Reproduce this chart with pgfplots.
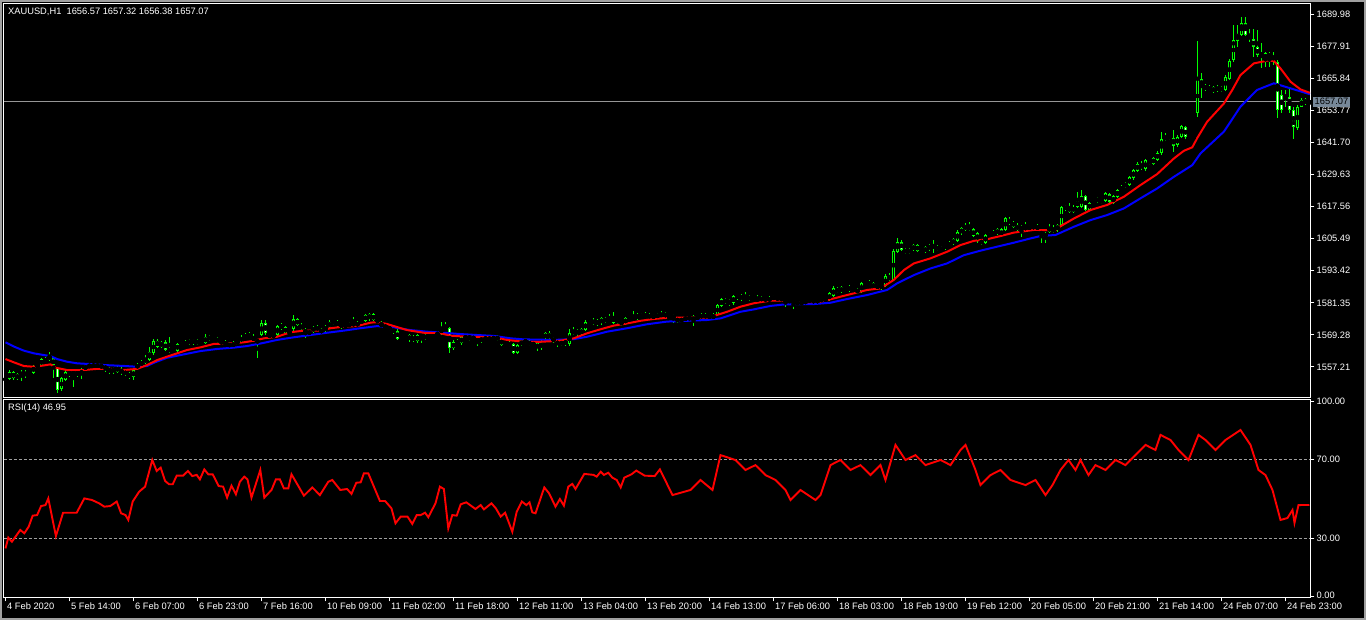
\documentclass[border=0pt]{standalone}
\usepackage{pgfplots}
\usepackage{pgfplotstable}
\pgfplotsset{compat=1.18}
\usepackage{fontspec}
\setmainfont{Liberation Sans}
\definecolor{cgreen}{RGB}{0,255,0}
\definecolor{cred}{RGB}{255,0,0}
\definecolor{cblue}{RGB}{0,0,255}
\definecolor{pricebox}{RGB}{119,136,153}
\definecolor{frame}{RGB}{160,160,160}
\newcommand\mtfont{\fontsize{9.3pt}{11pt}\selectfont}

\pgfplotstableread{
i o h l c
0 1552.3 1553.3 1551.8 1552.9
1 1552.6 1555.9 1552.2 1555.4
2 1555.4 1555.8 1552.4 1552.9
3 1552.6 1555.0 1552.2 1554.6
4 1553.8 1556.0 1552.0 1555.4
5 1555.4 1555.9 1553.2 1553.8
6 1554.2 1555.8 1553.8 1555.4
7 1555.1 1558.0 1554.6 1557.6
8 1557.3 1558.4 1556.9 1557.9
9 1557.9 1560.6 1557.5 1560.1
10 1559.2 1560.8 1558.8 1560.1
11 1559.8 1563.0 1559.3 1561.7
12 1560.5 1561.0 1552.9 1557.9
13 1556.7 1557.2 1547.5 1548.6
14 1548.8 1553.5 1548.2 1552.9
15 1552.3 1556.0 1551.9 1555.4
16 1555.4 1556.0 1553.6 1554.2
17 1554.2 1556.4 1549.8 1555.4
18 1555.4 1556.1 1553.5 1554.2
19 1556.1 1556.8 1552.8 1554.2
20 1556.1 1558.6 1555.6 1557.9
21 1557.3 1558.5 1556.9 1557.9
22 1557.6 1558.3 1557.0 1557.9
23 1558.3 1558.8 1556.6 1557.1
24 1557.6 1558.1 1556.8 1557.3
25 1557.6 1558.0 1555.2 1556.3
26 1556.7 1557.3 1554.4 1555.5
27 1555.6 1557.2 1554.6 1556.7
28 1557.3 1557.8 1554.9 1555.4
29 1556.3 1557.2 1554.3 1555.0
30 1555.4 1555.9 1554.0 1554.6
31 1554.8 1555.3 1552.8 1553.3
32 1553.3 1556.6 1552.4 1556.1
33 1556.7 1558.8 1556.2 1558.3
34 1557.9 1559.7 1557.4 1559.2
35 1558.8 1561.6 1558.4 1560.5
36 1559.8 1564.6 1559.3 1563.0
37 1562.4 1567.6 1561.9 1567.1
38 1567.1 1567.6 1564.4 1564.9
39 1564.9 1567.0 1564.4 1566.5
40 1566.7 1567.2 1563.1 1563.6
41 1563.0 1568.4 1562.6 1564.2
42 1564.0 1564.5 1562.7 1563.2
43 1563.4 1566.4 1563.0 1565.9
44 1565.1 1566.6 1564.6 1566.1
45 1565.5 1567.3 1565.0 1566.7
46 1565.9 1567.9 1565.4 1567.4
47 1567.4 1567.8 1565.6 1566.1
48 1566.1 1567.6 1565.6 1567.1
49 1566.7 1567.2 1565.7 1566.2
50 1566.1 1569.5 1565.7 1568.6
51 1568.6 1569.3 1567.1 1567.6
52 1567.5 1569.0 1567.0 1568.4
53 1568.0 1568.5 1566.2 1566.7
54 1566.9 1567.3 1565.7 1566.2
55 1566.7 1567.2 1565.0 1565.5
56 1566.1 1566.6 1564.3 1564.9
57 1564.9 1567.0 1564.4 1566.4
58 1566.4 1567.3 1565.8 1566.7
59 1566.7 1569.2 1566.2 1568.6
60 1568.0 1570.0 1567.6 1569.2
61 1569.2 1570.3 1568.1 1568.6
62 1568.6 1569.6 1566.6 1567.1
63 1567.2 1567.7 1560.5 1566.5
64 1569.2 1574.8 1568.7 1573.6
65 1573.6 1575.0 1569.4 1569.9
66 1569.0 1569.8 1567.9 1569.3
67 1569.3 1569.9 1568.4 1568.6
68 1569.3 1573.2 1568.8 1572.6
69 1572.6 1573.6 1571.1 1572.3
70 1572.1 1572.6 1569.6 1570.1
71 1570.1 1570.9 1569.4 1570.5
72 1571.4 1576.8 1570.9 1575.2
73 1575.2 1575.7 1572.5 1573.0
74 1573.2 1573.7 1570.9 1571.4
75 1571.4 1571.9 1568.0 1569.9
76 1569.9 1570.9 1569.4 1570.5
77 1570.5 1572.6 1570.0 1572.4
78 1571.1 1572.9 1570.6 1572.4
79 1571.4 1571.9 1569.6 1570.1
80 1570.9 1572.9 1570.4 1572.4
81 1572.1 1574.8 1571.6 1574.3
82 1573.6 1575.0 1573.1 1574.6
83 1574.3 1574.8 1572.4 1572.9
84 1573.2 1573.8 1571.7 1572.4
85 1572.4 1573.4 1572.1 1573.0
86 1572.6 1574.0 1572.1 1573.6
87 1573.0 1576.2 1572.6 1573.6
88 1572.6 1574.6 1572.1 1574.0
89 1574.0 1575.4 1573.1 1575.0
90 1574.6 1577.2 1574.1 1576.8
91 1575.2 1577.5 1574.6 1577.2
92 1577.0 1577.4 1574.4 1574.9
93 1574.9 1575.3 1573.9 1574.3
94 1573.6 1574.5 1572.2 1572.6
95 1572.6 1573.4 1571.5 1572.1
96 1572.1 1572.6 1570.9 1571.4
97 1571.4 1571.9 1569.8 1570.3
98 1570.8 1571.4 1567.2 1567.9
99 1567.9 1568.9 1567.2 1568.7
100 1568.7 1569.5 1568.1 1569.1
101 1569.1 1569.6 1566.8 1567.4
102 1568.6 1569.1 1566.5 1567.1
103 1566.9 1569.7 1566.3 1569.3
104 1569.3 1569.8 1566.1 1568.0
105 1568.0 1569.5 1567.5 1569.0
106 1569.0 1569.8 1567.7 1568.2
107 1568.2 1569.7 1567.7 1569.25
108 1569.3 1570.3 1569.0 1569.9
109 1569.9 1574.0 1569.4 1571.8
110 1571.8 1574.0 1571.0 1572.4
111 1571.8 1572.3 1562.4 1564.2
112 1564.2 1567.2 1563.5 1566.7
113 1566.7 1567.6 1565.6 1566.1
114 1566.1 1568.8 1565.6 1568.6
115 1568.6 1569.1 1567.6 1568.0
116 1568.0 1568.9 1567.0 1568.6
117 1568.6 1569.1 1567.2 1567.6
118 1567.6 1568.1 1565.1 1566.7
119 1566.9 1568.4 1566.4 1568.2
120 1568.2 1569.0 1567.1 1567.4
121 1567.4 1568.7 1566.9 1568.4
122 1568.4 1569.0 1567.3 1567.6
123 1567.6 1569.1 1566.9 1568.6
124 1567.6 1568.1 1565.2 1565.5
125 1565.5 1566.9 1565.0 1566.7
126 1566.4 1566.9 1564.6 1565.1
127 1565.7 1566.2 1562.2 1562.6
128 1562.6 1565.9 1562.1 1565.5
129 1565.8 1567.3 1565.3 1566.7
130 1566.4 1567.8 1566.0 1567.3
131 1566.7 1567.2 1565.0 1565.6
132 1565.6 1566.5 1565.2 1566.0
133 1566.1 1566.8 1563.2 1564.2
134 1564.2 1567.5 1563.5 1566.3
135 1568.0 1570.4 1567.5 1569.9
136 1570.1 1570.6 1567.0 1568.0
137 1568.0 1568.6 1566.3 1566.9
138 1567.1 1567.6 1564.7 1565.5
139 1565.5 1567.5 1565.0 1566.8
140 1567.1 1567.6 1565.0 1565.8
141 1565.8 1571.4 1565.3 1569.9
142 1569.6 1572.2 1569.1 1571.1
143 1571.1 1571.7 1569.0 1569.6
144 1569.6 1571.9 1569.1 1571.4
145 1571.1 1574.8 1570.6 1574.3
146 1574.3 1574.9 1572.9 1573.6
147 1573.4 1575.6 1572.9 1574.9
148 1574.6 1575.3 1572.8 1573.4
149 1573.6 1576.2 1573.1 1575.5
150 1575.5 1576.0 1573.8 1574.3
151 1574.6 1577.2 1574.1 1575.5
152 1573.9 1577.9 1573.4 1576.1
153 1574.9 1575.4 1573.5 1574.3
154 1574.3 1574.8 1572.5 1573.6
155 1573.6 1576.1 1573.0 1575.5
156 1575.5 1576.0 1574.4 1574.9
157 1574.9 1578.2 1574.4 1576.1
158 1575.5 1577.5 1575.0 1576.8
159 1576.8 1577.6 1575.6 1576.1
160 1576.1 1577.8 1575.6 1577.2
161 1577.2 1577.7 1575.0 1575.5
162 1575.5 1577.3 1575.0 1576.8
163 1576.8 1577.4 1575.6 1576.1
164 1575.9 1578.3 1575.4 1577.7
165 1577.4 1578.0 1575.6 1576.1
166 1576.1 1576.7 1575.0 1575.5
167 1576.8 1577.3 1573.6 1575.5
168 1575.5 1576.0 1573.8 1574.3
169 1574.6 1575.6 1574.1 1575.2
170 1574.9 1576.4 1574.4 1575.9
171 1575.9 1576.4 1574.7 1575.2
172 1574.6 1576.6 1572.6 1576.1
173 1576.1 1576.6 1575.0 1575.5
174 1575.5 1577.7 1575.0 1577.2
175 1577.2 1577.7 1575.0 1575.5
176 1575.5 1577.3 1575.0 1576.8
177 1576.8 1577.4 1575.0 1575.5
178 1576.8 1581.1 1576.3 1580.5
179 1580.2 1583.3 1579.8 1582.7
180 1582.7 1583.2 1580.9 1581.4
181 1581.2 1582.7 1580.0 1582.2
182 1581.2 1584.4 1580.7 1583.9
183 1583.1 1584.8 1582.6 1584.3
184 1584.3 1584.8 1582.2 1582.7
185 1582.5 1585.5 1582.0 1583.1
186 1582.5 1584.4 1582.0 1583.9
187 1583.1 1583.6 1581.7 1582.2
188 1582.2 1584.4 1581.7 1583.1
189 1582.2 1583.9 1581.7 1583.4
190 1583.1 1583.6 1581.7 1582.2
191 1582.2 1583.8 1581.7 1583.1
192 1583.1 1584.2 1582.6 1583.4
193 1583.4 1584.0 1582.1 1582.6
194 1582.6 1583.6 1582.1 1583.0
195 1582.6 1583.0 1579.9 1581.8
196 1581.8 1582.8 1581.4 1582.4
197 1582.0 1582.5 1578.9 1581.4
198 1581.4 1581.8 1580.8 1581.2
199 1581.2 1581.9 1580.7 1581.4
200 1581.4 1582.4 1580.9 1582.0
201 1582.0 1583.0 1581.6 1582.4
202 1582.4 1582.8 1581.2 1581.6
203 1581.6 1582.9 1581.2 1582.4
204 1582.2 1583.2 1581.8 1582.7
205 1582.7 1583.1 1582.0 1582.4
206 1582.4 1585.4 1582.0 1584.9
207 1583.9 1587.6 1583.4 1586.8
208 1586.8 1587.3 1585.0 1585.5
209 1585.5 1587.7 1585.0 1587.2
210 1586.4 1587.8 1585.9 1587.2
211 1586.0 1588.2 1585.5 1587.4
212 1586.6 1587.0 1585.4 1585.9
213 1586.4 1586.9 1584.7 1585.2
214 1585.5 1589.2 1585.0 1588.7
215 1587.7 1589.4 1587.2 1588.9
216 1588.1 1589.8 1587.6 1589.3
217 1588.9 1589.4 1586.3 1586.8
218 1586.8 1588.6 1586.3 1588.1
219 1588.1 1588.6 1586.3 1586.8
220 1587.7 1592.2 1587.2 1591.5
221 1591.5 1592.6 1589.5 1590.0
222 1590.0 1601.5 1589.5 1601.0
223 1600.6 1605.9 1600.1 1604.4
224 1604.4 1604.9 1600.7 1601.2
225 1601.5 1602.0 1599.7 1600.2
226 1600.2 1602.0 1599.7 1601.5
227 1601.2 1603.6 1600.7 1603.1
228 1603.1 1603.6 1600.4 1600.9
229 1601.2 1602.4 1600.7 1601.9
230 1600.6 1602.7 1600.1 1602.2
231 1601.5 1603.6 1601.0 1603.1
232 1602.9 1605.0 1600.2 1602.5
233 1602.7 1603.2 1600.7 1601.2
234 1601.2 1602.7 1600.7 1602.2
235 1601.9 1603.6 1601.4 1603.1
236 1602.7 1604.5 1602.2 1604.0
237 1603.5 1605.8 1603.0 1605.3
238 1604.7 1608.6 1604.2 1608.1
239 1607.5 1609.9 1607.0 1609.4
240 1608.8 1611.5 1608.3 1610.6
241 1610.0 1611.8 1608.5 1609.0
242 1609.0 1609.5 1606.0 1606.5
243 1607.5 1608.0 1603.9 1605.0
244 1603.5 1605.5 1603.0 1605.0
245 1604.0 1607.4 1603.5 1606.9
246 1606.5 1608.0 1606.0 1607.5
247 1606.9 1608.6 1606.4 1608.1
248 1607.3 1609.5 1606.8 1609.0
249 1609.0 1609.5 1606.0 1606.5
250 1608.8 1613.5 1608.3 1613.2
251 1612.8 1613.6 1610.8 1611.3
252 1610.0 1612.3 1609.5 1611.9
253 1610.6 1611.3 1608.3 1608.8
254 1609.0 1610.5 1606.0 1610.0
255 1609.0 1611.9 1608.5 1610.0
256 1609.0 1610.8 1608.5 1610.3
257 1609.4 1610.8 1609.0 1610.3
258 1610.3 1611.0 1608.5 1609.0
259 1608.7 1609.2 1603.7 1606.5
260 1607.5 1608.0 1603.7 1606.2
261 1608.1 1611.0 1607.6 1610.0
262 1608.1 1610.5 1607.6 1609.4
263 1608.7 1611.2 1608.2 1610.6
264 1610.6 1618.0 1610.1 1617.5
265 1617.8 1618.3 1616.0 1616.5
266 1615.6 1619.0 1615.1 1617.5
267 1615.6 1618.0 1615.1 1617.5
268 1617.5 1623.2 1617.0 1619.8
269 1617.5 1623.8 1617.0 1621.5
270 1621.5 1622.0 1616.0 1616.5
271 1616.5 1619.5 1616.0 1619.0
272 1619.0 1620.5 1618.5 1620.0
273 1619.5 1621.2 1619.0 1620.7
274 1620.0 1620.5 1618.7 1619.2
275 1619.7 1623.1 1619.2 1622.6
276 1622.3 1622.8 1618.9 1619.4
277 1619.0 1622.0 1618.5 1621.5
278 1621.3 1624.3 1620.8 1623.8
279 1623.8 1625.6 1623.3 1625.1
280 1625.1 1626.8 1624.6 1626.3
281 1625.7 1629.1 1625.2 1628.6
282 1628.2 1631.8 1627.7 1631.3
283 1631.1 1634.5 1630.6 1633.6
284 1633.6 1634.8 1631.5 1632.0
285 1631.6 1635.6 1631.1 1635.1
286 1634.8 1635.3 1633.3 1633.8
287 1633.8 1636.2 1633.3 1635.7
288 1635.2 1638.4 1634.7 1637.9
289 1637.6 1645.8 1637.1 1642.9
290 1642.6 1645.2 1642.1 1644.2
291 1644.2 1644.7 1642.6 1643.3
292 1643.3 1646.4 1638.2 1640.4
293 1640.7 1644.4 1640.2 1643.9
294 1643.9 1648.4 1643.4 1647.9
295 1647.6 1648.1 1643.1 1643.6
296 1643.6 1644.2 1642.8 1643.3
297 1643.3 1644.0 1642.9 1643.6
298 1652.9 1680.0 1651.4 1665.5
299 1665.5 1667.7 1658.3 1663.0
300 1663.0 1663.6 1661.2 1661.7
301 1661.5 1663.2 1661.0 1662.7
302 1662.5 1663.0 1660.3 1660.8
303 1661.2 1663.2 1660.7 1662.7
304 1661.2 1663.0 1660.7 1662.5
305 1661.5 1667.0 1661.0 1666.5
306 1665.8 1673.0 1665.3 1672.5
307 1672.7 1685.9 1672.1 1680.3
308 1680.0 1685.9 1677.8 1682.5
309 1682.2 1689.1 1681.7 1686.8
310 1686.8 1689.1 1681.8 1682.2
311 1682.2 1684.3 1679.7 1680.5
312 1680.5 1684.3 1674.0 1677.8
313 1677.5 1684.0 1674.0 1674.6
314 1674.6 1679.0 1669.6 1675.3
315 1675.3 1675.8 1670.2 1673.0
316 1674.0 1675.6 1670.2 1675.0
317 1674.3 1675.9 1670.9 1673.0
318 1672.1 1672.6 1650.8 1653.9
319 1659.6 1661.5 1652.7 1653.9
320 1659.6 1661.5 1655.2 1658.3
321 1658.7 1662.1 1652.7 1653.9
322 1653.9 1655.2 1642.9 1647.6
323 1647.0 1655.8 1646.6 1655.2
324 1655.2 1658.5 1655.0 1657.7
325 1657.9 1658.4 1655.9 1656.4
326 1656.57 1657.32 1656.38 1657.07
}\candles

\pgfplotstableread{
i v
0 1560.2
2.1 1558.96
4.6 1557.57
7.1 1557.3
9.6 1557.8
11.25 1558.2
12.5 1556.95
15.4 1556.07
19.6 1556.07
22.9 1556.5
26.25 1556.5
29.6 1556.07
32.9 1556.5
35.4 1557.95
37.9 1559.8
40.4 1561.1
42.9 1562.35
45.4 1563.6
48.75 1564.6
52.1 1565.9
57.1 1566.1
59.6 1566.5
62.1 1567.1
64.6 1568.0
67.9 1568.6
71.25 1570.3
74.6 1570.9
78.75 1570.9
81.25 1571.8
84.6 1572.4
87.9 1572.6
91.25 1573.9
92.9 1574.1
95.4 1573.4
97.1 1572.6
100.4 1571.1
104.6 1570.1
108.75 1569.9
111.25 1569.0
115.4 1568.6
122.1 1568.4
125.4 1567.4
129.6 1566.7
133.75 1566.7
138.75 1567.1
142.1 1568.0
145.4 1569.9
148.75 1571.4
152.1 1572.8
155.4 1573.6
158.75 1574.6
162.1 1575.3
166.25 1575.8
170.4 1575.8
175.4 1575.8
177.9 1576.8
180.4 1578.0
183.75 1579.9
187.1 1581.2
191.25 1582.2
195 1582.2
198.75 1581.4
203.75 1581.8
206.25 1582.7
210.4 1584.3
215.4 1586.2
218.75 1586.8
222.1 1590.0
224.6 1593.7
227.1 1596.2
231.25 1598.1
235.4 1600.6
238.75 1603.1
242.1 1604.7
245.4 1605.3
248.75 1606.5
252.1 1607.8
257.1 1608.8
262.5 1608.7
263.75 1610.2
267.1 1613.1
271.25 1616.3
275.4 1618.2
279.6 1621.3
283.75 1625.7
287.9 1629.8
292.1 1635.7
294.6 1638.6
296.7 1639.9
297.9 1643.3
300.4 1649.5
304.6 1656.4
306.7 1661.5
308.75 1667.1
312.1 1671.5
315.4 1672.5
317.1 1672.4
318.75 1669.6
321.25 1664.6
323.75 1661.7
326.1 1660.4
}\redma

\pgfplotstableread{
i v
0 1566.5
2.1 1564.9
4.6 1563.35
7.1 1562.35
9.6 1561.7
11.25 1561.3
12.9 1560.2
15.4 1559.2
17.9 1558.6
21.25 1558.3
24.6 1557.95
29.6 1557.6
32.9 1557.3
35.4 1557.6
37.1 1558.8
40.4 1560.7
44.6 1561.97
48.75 1563.2
52.9 1564.0
57.1 1564.5
60.4 1565.1
64.6 1566.3
67.9 1567.4
72.1 1568.4
76.25 1569.25
80.4 1570.1
84.6 1570.9
88.75 1571.8
92.9 1572.6
97.1 1572.1
101.25 1571.1
105.4 1570.5
109.6 1570.1
113.75 1569.6
117.9 1569.25
122.1 1568.9
126.25 1568.0
129.6 1567.6
137.1 1567.4
142.1 1567.7
145.4 1568.6
150.4 1570.5
155.4 1571.8
160.4 1573.3
165.4 1574.3
170.4 1574.6
175.4 1574.9
178.75 1575.5
183.75 1578.0
187.1 1578.9
191.25 1580.2
195 1580.8
202.1 1580.9
206.25 1581.4
210.4 1582.8
215.4 1584.3
220.4 1586.2
222.9 1588.7
227.1 1591.8
231.25 1594.3
235.4 1596.2
239.6 1599.3
243.75 1601.0
247.9 1602.5
252.1 1604.0
256.25 1605.6
258.75 1606.5
262.5 1606.9
267.1 1610.0
271.25 1612.5
275.4 1614.4
279.6 1616.9
283.75 1620.7
287.9 1624.4
292.1 1628.8
296.7 1633.2
298.75 1637.6
304.6 1645.8
308.75 1655.2
312.9 1661.5
317.1 1664.0
321.25 1662.1
326.1 1659.9
}\bluema

\pgfplotstableread{
i r
0 24.8
0.7 30.3
1.6 28.2
3.7 34.2
4.7 32.5
5.8 35.9
6.8 41.5
7.9 41.8
8.9 46.4
10 46.9
10.7 50.3
12.6 31.1
14.4 43.0
17.8 43.0
19.7 50.3
21.6 49.5
23.4 47.8
24.7 46.1
26.2 46.4
27.8 48.7
28.9 42.7
30 41.8
30.7 39.3
31.8 48.7
33.4 53.7
34.9 56.3
36.7 69.9
37.8 64.3
38.8 66.0
39.9 59.2
40.9 57.5
41.8 57.5
42.8 61.9
44.4 61.9
45.6 64.3
46.7 61.7
47.8 62.3
48.6 60.0
49.7 65.1
50.7 62.6
51.8 62.6
53.3 56.6
54.4 56.3
55.4 50.7
56.5 56.8
57.6 52.4
58.6 58.8
59.7 61.4
60.5 60.0
61.5 50.7
63.7 64.8
64.7 50.7
66.5 54.6
67.6 60.0
68.6 60.0
69.6 55.4
70.7 55.4
71.5 62.6
73.3 56.3
74.6 51.7
76.7 55.9
78.6 52.0
80.7 58.8
81.7 59.7
83.7 54.6
85.4 55.1
86.5 52.6
87.7 58.3
88.8 58.5
89.6 63.1
90.7 63.1
93.6 49.0
94.9 49.0
96.5 45.2
97.5 37.6
98.8 41.0
100.5 41.0
101.7 37.3
102.8 41.8
103.8 41.8
104.9 43.0
105.7 40.7
107.5 47.8
108.6 56.3
109.6 55.1
110.7 35.0
111.7 41.8
112.8 41.5
113.8 47.3
115.2 48.3
117.5 44.9
118.8 46.9
119.6 44.7
121.5 47.8
122.6 45.2
123.8 41.0
124.9 43.0
126.7 33.3
127.8 43.5
129.1 48.7
130.2 46.9
131 48.3
131.7 43.2
132.5 42.7
134.7 55.9
135.9 52.9
137.5 46.1
138.6 50.0
139.6 46.6
140.7 56.3
141.7 57.7
142.5 55.1
144.7 62.8
147 62.3
147.8 61.4
148.8 63.9
149.6 62.3
150.7 63.4
151.7 60.9
152.8 59.7
153.8 55.9
154.7 60.9
156.5 62.6
157.7 64.5
159.8 61.9
162.3 61.7
163.6 65.1
166.75 52.0
171.25 54.6
173.75 59.7
176.75 54.6
178.75 72.4
182.5 69.9
185 64.8
187.5 67.3
190 62.2
192.5 59.7
195 54.6
196.25 49.5
198.75 54.6
202.5 49.5
203.75 52.0
206.25 67.3
208.75 69.9
211.25 64.8
213.75 67.3
216.25 62.2
218.75 67.3
220 59.7
222.5 77.6
225 69.9
227.5 72.4
230 67.3
233.75 69.9
236.25 67.3
238.75 75.0
240 77.6
242.5 64.8
243.75 57.1
246.25 62.2
248.75 64.8
251.25 59.7
255 57.1
257.5 59.7
260 52.0
261.75 57.1
263.75 64.8
265.75 69.9
267.5 64.8
268.75 69.9
270.75 62.2
272.5 67.3
275 64.8
277.5 69.9
280 67.3
282.5 72.4
285 77.6
287.5 75.0
288.75 82.7
291.25 80.1
293.25 75.0
295.75 69.9
298.25 82.7
300 80.1
302.5 75.0
305 80.1
308.75 85.2
311.25 77.6
313.25 64.8
315 62.2
316.75 54.6
318.75 39.3
320.5 40.3
321.75 44.4
322.25 37.8
323.25 46.9
326 46.95
}\rsi

\begin{document}
\begin{tikzpicture}
\fill[black] (0,0) rectangle (1366pt,620pt);
\draw[frame, line width=2pt] (1pt,1pt) rectangle (1365pt,619pt);

% ---------- main price panel ----------
\begin{axis}[
  at={(3.5pt,616.5pt)}, anchor=north west,
  scale only axis, width=1307pt, height=394pt,
  xmin=-0.5, xmax=326.25, ymin=1545.73, ymax=1694.04,
  axis line style={white, line width=1pt},
  xtick=\empty,
  ytick={1557.21,1569.28,1581.35,1593.42,1605.49,1617.56,1629.63,1641.70,1653.77,1665.84,1677.91,1689.98},
  yticklabels={1557.21,1569.28,1581.35,1593.42,1605.49,1617.56,1629.63,1641.70,1653.77,1665.84,1677.91,1689.98},
  ytick pos=right, yticklabel pos=right,
  tick align=outside, major tick length=4pt,
  tick style={white, line width=1pt},
  yticklabel style={text=white, font=\mtfont, inner sep=0pt, anchor=west, xshift=2pt},
  clip=true,
]
\addplot[color={rgb,255:red,150;green,150;blue,150}, line width=1pt] coordinates {(-0.5,1657.07) (326.25,1657.07)};
\coordinate (pl) at (axis cs:326.25,1657.07);
% wicks
\addplot[only marks, mark=none, error bars/.cd, y dir=both, y explicit, error mark=none,
  error bar style={draw=cgreen, line width=1pt, line cap=butt}]
  table[x=i, y expr={(\thisrow{h}+\thisrow{l})/2}, y error expr={(\thisrow{h}-\thisrow{l})/2}] {\candles};
% bodies
\addplot[only marks, mark=none, error bars/.cd, y dir=both, y explicit, error mark=none,
  error bar style={draw=cgreen, line width=3pt, line cap=butt}]
  table[x=i, y expr={(\thisrow{o}+\thisrow{c})/2}, y error expr={max(abs(\thisrow{o}-\thisrow{c})/2,0.19)}] {\candles};
% inner of every body (black)
\addplot[only marks, mark=none, error bars/.cd, y dir=both, y explicit, error mark=none,
  error bar style={draw=black, line width=1pt, line cap=butt}]
  table[x=i, y expr={(\thisrow{o}+\thisrow{c})/2}, y error expr={max(abs(\thisrow{o}-\thisrow{c})/2-0.376,0)}] {\candles};
% inner of bear bodies (white)
\addplot[only marks, mark=none, error bars/.cd, y dir=both, y explicit, error mark=none,
  error bar style={draw=white, line width=1pt, line cap=butt}]
  table[x=i, y expr={(\thisrow{o}+\thisrow{c})/2}, y error expr={max((\thisrow{o}-\thisrow{c})/2-0.376,0)}] {\candles};
% moving averages
\addplot[cblue, line width=2pt, mark=none] table[x=i, y=v] {\bluema};
\addplot[cred, line width=2pt, mark=none] table[x=i, y=v] {\redma};
\end{axis}

% ---------- RSI panel ----------
\begin{axis}[
  at={(3.5pt,220.5pt)}, anchor=north west,
  scale only axis, width=1307pt, height=198pt,
  xmin=-0.5, xmax=326.25, ymin=-0.255, ymax=100.77,
  axis line style={white, line width=1pt},
  xtick={0,16,...,320},
  xticklabels={4 Feb 2020,5 Feb 14:00,6 Feb 07:00,6 Feb 23:00,7 Feb 16:00,10 Feb 09:00,11 Feb 02:00,11 Feb 18:00,12 Feb 11:00,13 Feb 04:00,13 Feb 20:00,14 Feb 13:00,17 Feb 06:00,18 Feb 03:00,18 Feb 19:00,19 Feb 12:00,20 Feb 05:00,20 Feb 21:00,21 Feb 14:00,24 Feb 07:00,24 Feb 23:00},
  xtick pos=bottom,
  xticklabel style={text=white, font=\mtfont, inner sep=0pt, anchor=north west, xshift=1.5pt, yshift=-1pt},
  ytick={0,100},
  yticklabels={\raisebox{4pt}{0.00},\raisebox{-4pt}{100.00}},
  extra y ticks={30,70},
  extra y tick labels={30.00,70.00},
  extra y tick style={grid=major},
  major grid style={draw={rgb,255:red,160;green,160;blue,160}, line width=1pt, dash pattern=on 3pt off 2pt},
  ytick pos=right, yticklabel pos=right,
  tick align=outside, major tick length=4pt,
  tick style={white, line width=1pt},
  yticklabel style={text=white, font=\mtfont, inner sep=0pt, anchor=west, xshift=2pt},
  clip=true,
]
\addplot[cred, line width=1.9pt, mark=none] table[x=i, y=r] {\rsi};
\end{axis}

\node[fill=pricebox, text=black, font=\mtfont, inner xsep=2pt, inner ysep=0pt, minimum height=10pt, anchor=west, xshift=2pt] at (pl) {1657.07};
\node[anchor=west, text=white, font=\mtfont, inner sep=0pt] at (8pt,608pt) {XAUUSD,H1\ \ 1656.57 1657.32 1656.38 1657.07};
\node[anchor=west, text=white, font=\mtfont, inner sep=0pt] at (8pt,212pt) {RSI(14) 46.95};

\pgfresetboundingbox
\useasboundingbox (0,0) rectangle (1366pt,620pt);
\end{tikzpicture}
\end{document}
